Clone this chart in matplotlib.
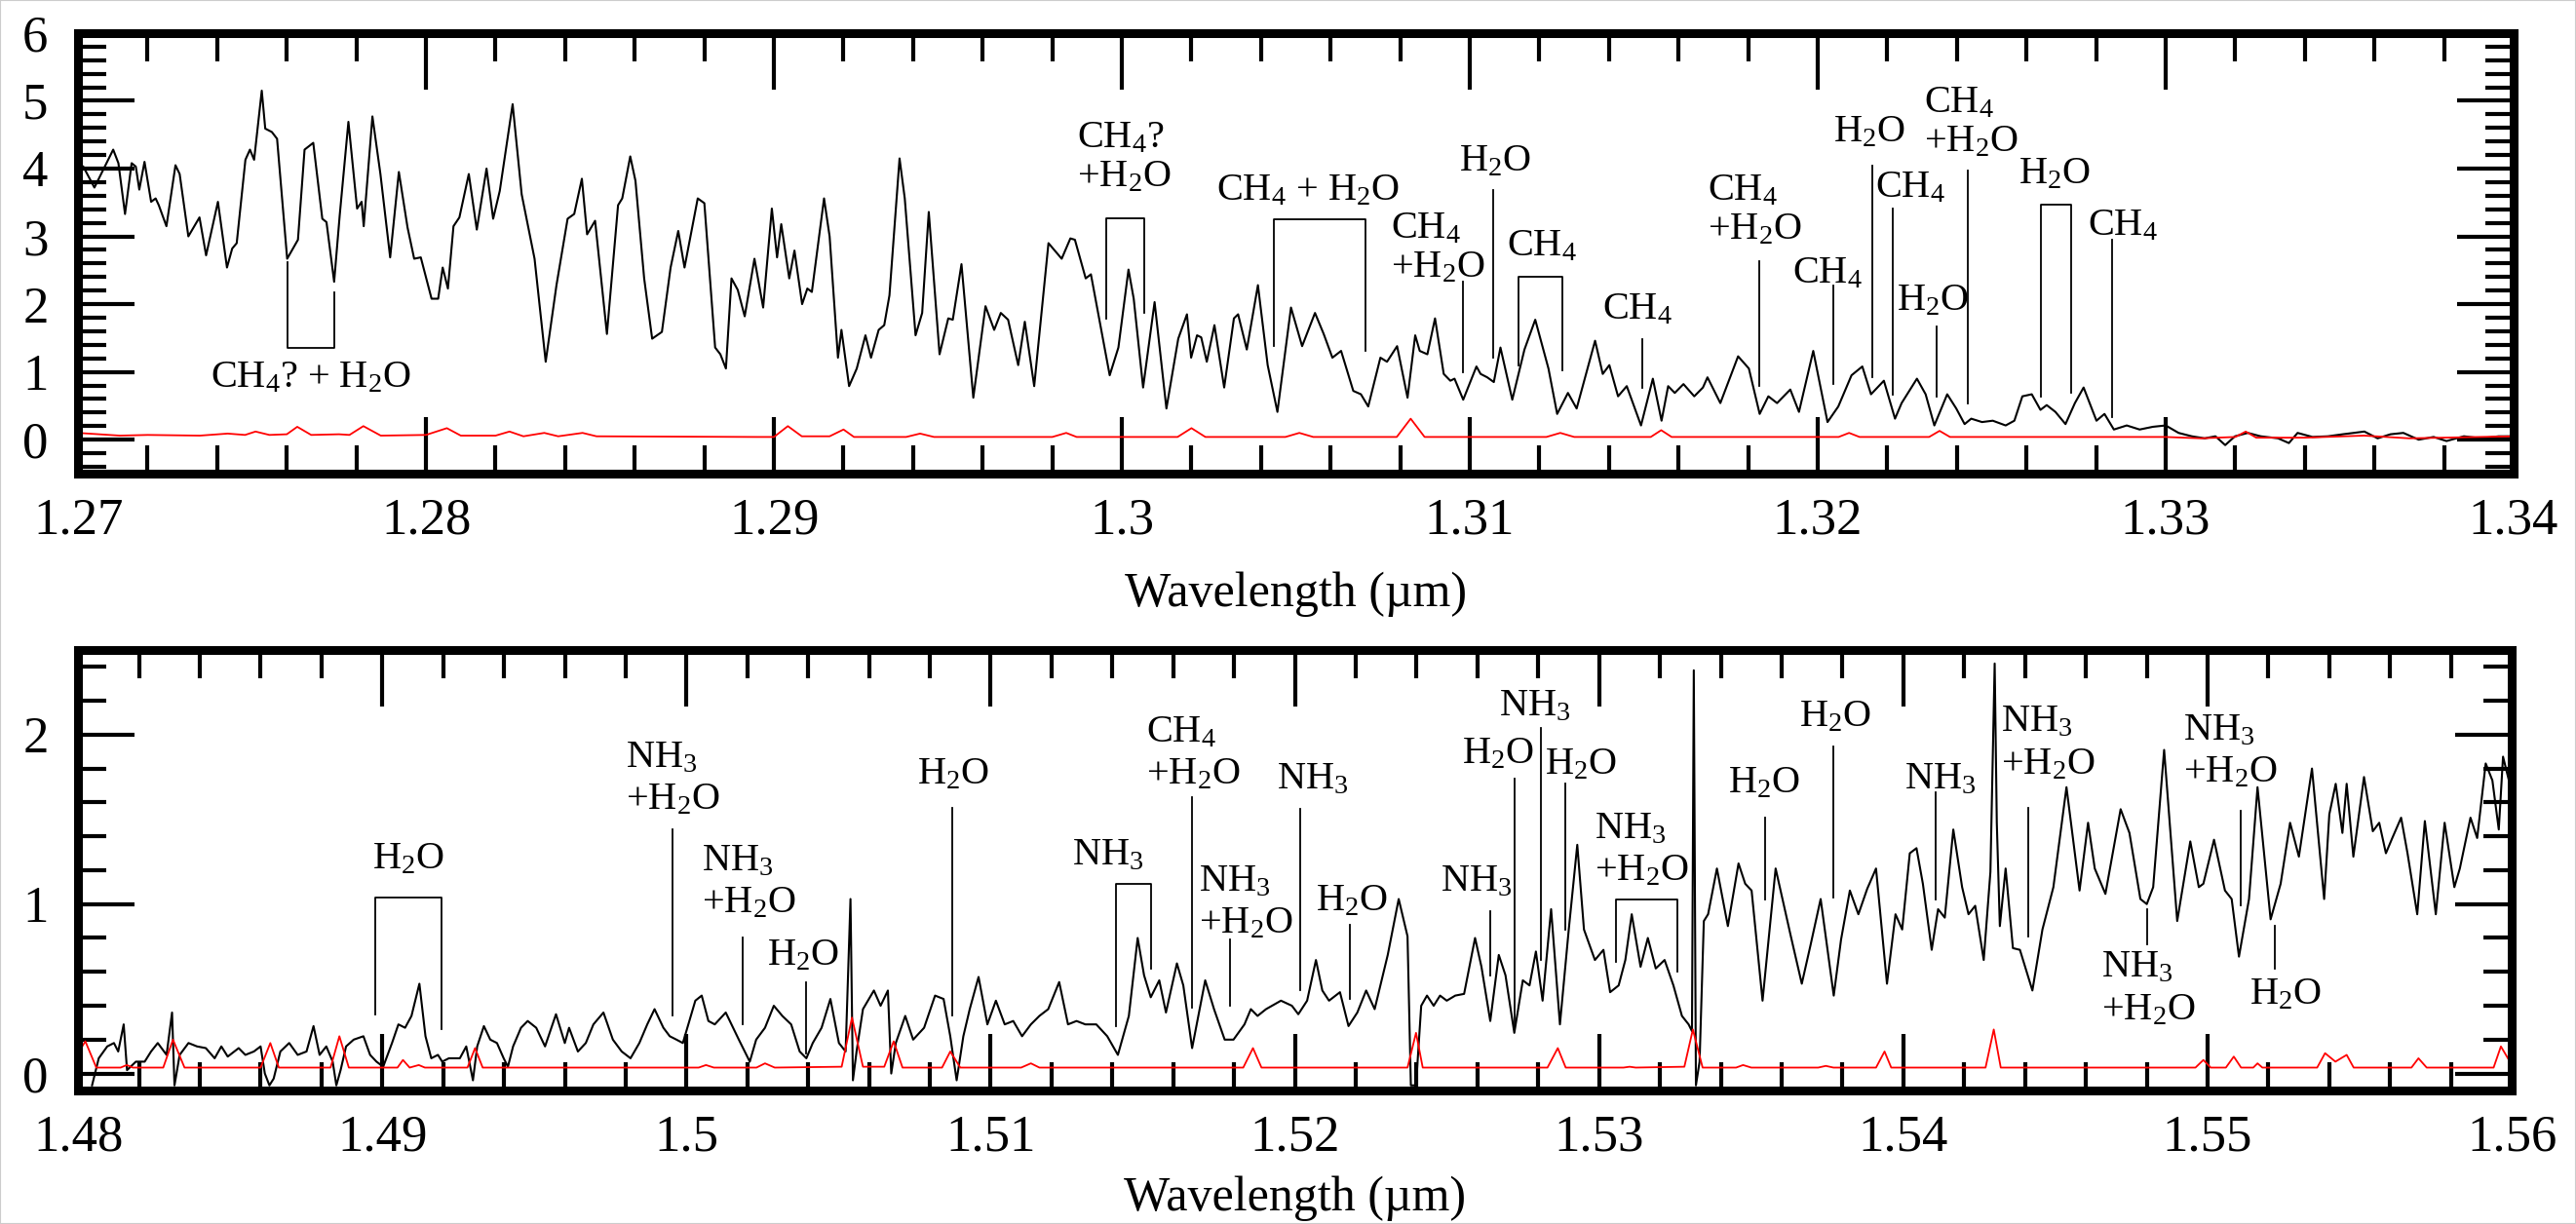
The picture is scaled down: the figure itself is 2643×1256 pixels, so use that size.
import matplotlib
matplotlib.use('Agg')
import matplotlib.pyplot as plt
from matplotlib.patches import Rectangle
from matplotlib.ticker import MultipleLocator, FormatStrFormatter

plt.rcParams['font.family'] = 'Liberation Serif'
plt.rcParams['mathtext.fontset'] = 'custom'
plt.rcParams['mathtext.rm'] = 'Liberation Serif'
plt.rcParams['mathtext.default'] = 'regular'

# ---- J band (1.27 - 1.34 um) ----
j_wave = [1.27015, 1.27047, 1.27101, 1.27116, 1.27135, 1.27154, 1.27166, 1.27176, 1.27191, 1.27210,
          1.27223, 1.27232, 1.27254, 1.27280, 1.27292, 1.27317, 1.27349, 1.27368, 1.27402, 1.27428,
          1.27443, 1.27456, 1.27481, 1.27494, 1.27506, 1.27528, 1.27538, 1.27557, 1.27572, 1.27601,
          1.27632, 1.27651, 1.27676, 1.27702, 1.27714, 1.27736, 1.27752, 1.27777, 1.27802, 1.27815,
          1.27821, 1.27846, 1.27869, 1.27897, 1.27922, 1.27947, 1.27966, 1.27985, 1.28016, 1.28035,
          1.28048, 1.28063, 1.28079, 1.28096, 1.28123, 1.28146, 1.28174, 1.28193, 1.28212, 1.28249,
          1.28275, 1.28312, 1.28344, 1.28375, 1.28407, 1.28426, 1.28448, 1.28463, 1.28486, 1.28520,
          1.28552, 1.28564, 1.28587, 1.28602, 1.28627, 1.28650, 1.28678, 1.28703, 1.28725, 1.28743,
          1.28781, 1.28800, 1.28831, 1.28846, 1.28862, 1.28878, 1.28896, 1.28916, 1.28944, 1.28969,
          1.28994, 1.29009, 1.29021, 1.29044, 1.29059, 1.29081, 1.29096, 1.29109, 1.29144, 1.29160,
          1.29184, 1.29194, 1.29216, 1.29238, 1.29263, 1.29279, 1.29301, 1.29317, 1.29332, 1.29361,
          1.29376, 1.29407, 1.29426, 1.29445, 1.29476, 1.29501, 1.29514, 1.29539, 1.29573, 1.29608,
          1.29633, 1.29652, 1.29673, 1.29702, 1.29721, 1.29748, 1.29789, 1.29827, 1.29852, 1.29865,
          1.29896, 1.29911, 1.29965, 1.29990, 1.30019, 1.30034, 1.30061, 1.30094, 1.30128, 1.30162,
          1.30187, 1.30199, 1.30216, 1.30228, 1.30244, 1.30266, 1.30294, 1.30322, 1.30334, 1.30359,
          1.30391, 1.30419, 1.30447, 1.30486, 1.30518, 1.30555, 1.30580, 1.30605, 1.30630, 1.30665,
          1.30687, 1.30708, 1.30743, 1.30762, 1.30791, 1.30821, 1.30843, 1.30856, 1.30878, 1.30900,
          1.30925, 1.30944, 1.30956, 1.30981, 1.31019, 1.31031, 1.31050, 1.31069, 1.31088, 1.31122,
          1.31157, 1.31188, 1.31226, 1.31251, 1.31267, 1.31282, 1.31307, 1.31360, 1.31382, 1.31401,
          1.31426, 1.31451, 1.31492, 1.31526, 1.31551, 1.31570, 1.31589, 1.31614, 1.31645, 1.31670,
          1.31683, 1.31720, 1.31771, 1.31802, 1.31833, 1.31858, 1.31883, 1.31921, 1.31946, 1.31987,
          1.32028, 1.32059, 1.32097, 1.32128, 1.32153, 1.32190, 1.32222, 1.32241, 1.32285, 1.32310,
          1.32335, 1.32372, 1.32398, 1.32422, 1.32441, 1.32472, 1.32503, 1.32540, 1.32565, 1.32588,
          1.32615, 1.32640, 1.32658, 1.32683, 1.32712, 1.32739, 1.32764, 1.32801, 1.32824, 1.32851,
          1.32888, 1.32925, 1.32963, 1.33000, 1.33037, 1.33075, 1.33112, 1.33143, 1.33171, 1.33199,
          1.33236, 1.33273, 1.33323, 1.33354, 1.33379, 1.33422, 1.33466, 1.33509, 1.33571, 1.33609,
          1.33646, 1.33683, 1.33727, 1.33770, 1.33807, 1.33857, 1.33907, 1.33957, 1.33988]
j_flux = [4.03, 3.72, 4.28, 4.08, 3.33, 4.08, 4.03, 3.69, 4.10, 3.51,
          3.56, 3.46, 3.15, 4.05, 3.92, 3.00, 3.28, 2.72, 3.51, 2.54,
          2.82, 2.90, 4.13, 4.28, 4.13, 5.15, 4.59, 4.54, 4.44, 2.67,
          2.95, 4.28, 4.38, 3.26, 3.21, 2.33, 3.31, 4.69, 3.41, 3.51,
          3.15, 4.77, 3.92, 2.69, 3.95, 3.13, 2.67, 2.69, 2.08, 2.08,
          2.54, 2.23, 3.15, 3.28, 3.92, 3.10, 4.00, 3.26, 3.67, 4.95,
          3.62, 2.67, 1.15, 2.28, 3.26, 3.33, 3.85, 3.03, 3.23, 1.56,
          3.46, 3.56, 4.18, 3.82, 2.38, 1.49, 1.59, 2.54, 3.08, 2.54,
          3.56, 3.49, 1.36, 1.26, 1.05, 2.38, 2.21, 1.82, 2.67, 1.95,
          3.41, 2.69, 3.18, 2.38, 2.79, 2.00, 2.23, 2.18, 3.56, 3.00,
          1.21, 1.62, 0.79, 1.05, 1.54, 1.21, 1.62, 1.69, 2.13, 4.15,
          3.56, 1.54, 1.87, 3.36, 1.26, 1.79, 1.77, 2.59, 0.62, 1.97,
          1.62, 1.87, 1.77, 1.10, 1.74, 0.79, 2.90, 2.67, 2.97, 2.95,
          2.38, 2.44, 0.95, 1.36, 2.51, 2.08, 0.77, 2.03, 0.46, 1.49,
          1.85, 1.21, 1.54, 1.51, 1.15, 1.69, 0.77, 1.79, 1.85, 1.33,
          2.28, 1.10, 0.41, 1.95, 1.38, 1.87, 1.56, 1.21, 1.31, 0.72,
          0.67, 0.49, 1.21, 1.15, 1.38, 0.62, 1.54, 1.31, 1.26, 1.79,
          0.97, 0.87, 0.90, 0.59, 1.08, 0.97, 0.92, 0.85, 1.36, 0.59,
          1.33, 1.77, 1.05, 0.38, 0.54, 0.69, 0.46, 1.46, 0.97, 1.10,
          0.64, 0.79, 0.21, 0.90, 0.28, 0.79, 0.69, 0.82, 0.64, 0.77,
          0.92, 0.54, 1.23, 1.05, 0.38, 0.64, 0.54, 0.74, 0.41, 1.31,
          0.26, 0.49, 0.95, 1.08, 0.67, 0.87, 0.31, 0.54, 0.90, 0.67,
          0.21, 0.67, 0.46, 0.23, 0.31, 0.26, 0.28, 0.21, 0.28, 0.64,
          0.67, 0.44, 0.51, 0.41, 0.23, 0.54, 0.77, 0.28, 0.38, 0.15,
          0.21, 0.15, 0.19, 0.21, 0.10, 0.05, 0.02, 0.05, -0.08, 0.05,
          0.10, 0.05, 0.02, -0.05, 0.10, 0.04, 0.05, 0.08, 0.12, 0.02,
          0.08, 0.10, 0.00, 0.04, -0.02, 0.05, 0.02, 0.05, 0.05]

j_err_wave = [1.2700, 1.2712, 1.2720, 1.2735, 1.2743, 1.2748, 1.2751, 1.2755, 1.2760, 1.2763,
              1.2767, 1.2775, 1.2778, 1.2782, 1.2787, 1.2800, 1.2806, 1.2810, 1.2820, 1.2824,
              1.2828, 1.2834, 1.2838, 1.2845, 1.2849, 1.2895, 1.2900, 1.2904, 1.2908, 1.2916,
              1.2920, 1.2923, 1.2938, 1.2942, 1.2946, 1.2980, 1.2984, 1.2987, 1.3016, 1.3020,
              1.3024, 1.3047, 1.3051, 1.3055, 1.3079, 1.3083, 1.3087, 1.3122, 1.3126, 1.3130,
              1.3152, 1.3155, 1.3158, 1.3206, 1.3209, 1.3212, 1.3232, 1.3235, 1.3238, 1.3300,
              1.3310, 1.3320, 1.3323, 1.3326, 1.3340, 1.3357, 1.3370, 1.3390, 1.3400]
j_err = [0.10, 0.06, 0.07, 0.06, 0.09, 0.07, 0.12, 0.07, 0.08, 0.19,
         0.07, 0.08, 0.07, 0.20, 0.06, 0.07, 0.17, 0.06, 0.06, 0.12,
         0.05, 0.10, 0.05, 0.10, 0.05, 0.04, 0.04, 0.20, 0.05, 0.05,
         0.15, 0.04, 0.04, 0.09, 0.04, 0.04, 0.10, 0.04, 0.04, 0.17,
         0.04, 0.04, 0.10, 0.04, 0.04, 0.31, 0.04, 0.04, 0.10, 0.04,
         0.04, 0.14, 0.04, 0.04, 0.10, 0.04, 0.04, 0.13, 0.04, 0.04,
         0.02, 0.04, 0.12, 0.03, 0.03, 0.06, 0.02, 0.04, 0.05]

# ---- H band (1.48 - 1.56 um) ----
h_wave = [1.48046, 1.48068, 1.48096, 1.48118, 1.48132, 1.48150, 1.48161, 1.48190, 1.48219, 1.48240,
          1.48262, 1.48291, 1.48309, 1.48317, 1.48334, 1.48363, 1.48391, 1.48420, 1.48449, 1.48471,
          1.48492, 1.48528, 1.48550, 1.48578, 1.48600, 1.48614, 1.48629, 1.48643, 1.48665, 1.48694,
          1.48722, 1.48751, 1.48774, 1.48794, 1.48816, 1.48837, 1.48849, 1.48863, 1.48881, 1.48906,
          1.48938, 1.48960, 1.48981, 1.49003, 1.49032, 1.49053, 1.49075, 1.49096, 1.49122, 1.49142,
          1.49161, 1.49183, 1.49197, 1.49219, 1.49255, 1.49276, 1.49298, 1.49312, 1.49334, 1.49355,
          1.49377, 1.49399, 1.49413, 1.49430, 1.49456, 1.49478, 1.49506, 1.49535, 1.49571, 1.49600,
          1.49614, 1.49643, 1.49669, 1.49694, 1.49727, 1.49758, 1.49787, 1.49816, 1.49845, 1.49871,
          1.49895, 1.49924, 1.49945, 1.49967, 1.49988, 1.50029, 1.50050, 1.50072, 1.50093, 1.50129,
          1.50172, 1.50208, 1.50229, 1.50258, 1.50287, 1.50315, 1.50344, 1.50372, 1.50394, 1.50415,
          1.50444, 1.50473, 1.50501, 1.50523, 1.50539, 1.50547, 1.50559, 1.50580, 1.50616, 1.50638,
          1.50662, 1.50673, 1.50688, 1.50719, 1.50745, 1.50781, 1.50817, 1.50845, 1.50867, 1.50888,
          1.50910, 1.50931, 1.50960, 1.50989, 1.51017, 1.51046, 1.51074, 1.51103, 1.51132, 1.51160,
          1.51189, 1.51225, 1.51254, 1.51282, 1.51311, 1.51347, 1.51383, 1.51418, 1.51454, 1.51483,
          1.51504, 1.51526, 1.51554, 1.51576, 1.51612, 1.51633, 1.51662, 1.51705, 1.51734, 1.51769,
          1.51798, 1.51834, 1.51855, 1.51877, 1.51905, 1.51954, 1.51990, 1.52011, 1.52040, 1.52069,
          1.52090, 1.52112, 1.52148, 1.52176, 1.52205, 1.52234, 1.52262, 1.52305, 1.52341, 1.52370,
          1.52381, 1.52398, 1.52415, 1.52434, 1.52456, 1.52477, 1.52499, 1.52527, 1.52556, 1.52592,
          1.52613, 1.52642, 1.52670, 1.52692, 1.52721, 1.52749, 1.52771, 1.52792, 1.52814, 1.52842,
          1.52871, 1.52900, 1.52928, 1.52950, 1.52986, 1.53014, 1.53036, 1.53064, 1.53086, 1.53107,
          1.53136, 1.53160, 1.53186, 1.53215, 1.53244, 1.53272, 1.53294, 1.53305, 1.53311, 1.53318,
          1.53330, 1.53344, 1.53358, 1.53387, 1.53423, 1.53458, 1.53480, 1.53501, 1.53537, 1.53580,
          1.53630, 1.53666, 1.53695, 1.53728, 1.53771, 1.53795, 1.53824, 1.53852, 1.53881, 1.53910,
          1.53946, 1.53974, 1.53996, 1.54021, 1.54043, 1.54064, 1.54093, 1.54114, 1.54136, 1.54164,
          1.54193, 1.54214, 1.54236, 1.54264, 1.54286, 1.54296, 1.54300, 1.54307, 1.54317, 1.54336,
          1.54360, 1.54383, 1.54424, 1.54457, 1.54493, 1.54536, 1.54579, 1.54607, 1.54629, 1.54664,
          1.54714, 1.54743, 1.54779, 1.54800, 1.54821, 1.54857, 1.54900, 1.54943, 1.54971, 1.54986,
          1.55021, 1.55057, 1.55079, 1.55103, 1.55136, 1.55164, 1.55207, 1.55240, 1.55271, 1.55300,
          1.55343, 1.55383, 1.55400, 1.55421, 1.55443, 1.55457, 1.55479, 1.55514, 1.55543, 1.55564,
          1.55586, 1.55607, 1.55636, 1.55657, 1.55689, 1.55714, 1.55750, 1.55779, 1.55811, 1.55829,
          1.55864, 1.55886, 1.55914, 1.55936, 1.55957, 1.55971, 1.55993]
h_flux = [-0.07, 0.09, 0.16, 0.18, 0.13, 0.29, 0.02, 0.07, 0.07, 0.13,
          0.18, 0.11, 0.36, -0.07, 0.11, 0.18, 0.16, 0.15, 0.09, 0.16,
          0.10, 0.15, 0.11, 0.13, 0.16, 0.00, -0.07, -0.03, 0.13, 0.18,
          0.11, 0.13, 0.28, 0.11, 0.16, 0.07, -0.07, 0.02, 0.16, 0.20,
          0.22, 0.11, 0.07, 0.04, 0.18, 0.29, 0.27, 0.34, 0.53, 0.22,
          0.09, 0.11, 0.07, 0.09, 0.09, 0.16, -0.04, 0.16, 0.28, 0.20,
          0.18, 0.09, 0.04, 0.16, 0.27, 0.31, 0.27, 0.16, 0.35, 0.18,
          0.27, 0.13, 0.18, 0.29, 0.36, 0.20, 0.13, 0.09, 0.18, 0.29,
          0.38, 0.27, 0.22, 0.20, 0.18, 0.43, 0.46, 0.31, 0.29, 0.36,
          0.20, 0.07, 0.20, 0.27, 0.40, 0.34, 0.29, 0.13, 0.09, 0.18,
          0.27, 0.44, 0.18, 0.13, 1.03, -0.04, 0.13, 0.38, 0.49, 0.40,
          0.49, 0.00, 0.18, 0.34, 0.20, 0.27, 0.46, 0.44, 0.22, -0.04,
          0.22, 0.38, 0.57, 0.29, 0.43, 0.29, 0.31, 0.22, 0.29, 0.34,
          0.38, 0.54, 0.29, 0.31, 0.29, 0.29, 0.22, 0.11, 0.34, 0.80,
          0.58, 0.45, 0.55, 0.36, 0.65, 0.52, 0.15, 0.55, 0.38, 0.20,
          0.20, 0.29, 0.38, 0.34, 0.38, 0.43, 0.40, 0.35, 0.43, 0.67,
          0.49, 0.43, 0.48, 0.28, 0.36, 0.49, 0.38, 0.70, 1.03, 0.81,
          -0.07, -0.07, 0.40, 0.46, 0.40, 0.46, 0.43, 0.46, 0.47, 0.80,
          0.63, 0.31, 0.70, 0.58, 0.24, 0.55, 0.52, 0.72, 0.43, 0.97,
          0.29, 0.85, 1.35, 0.85, 0.67, 0.73, 0.48, 0.52, 0.67, 0.94,
          0.63, 0.80, 0.62, 0.67, 0.52, 0.34, 0.29, 0.25, 2.38, -0.07,
          0.07, 0.90, 0.94, 1.21, 0.87, 1.24, 1.12, 1.08, 0.43, 1.21,
          0.81, 0.53, 0.76, 1.03, 0.46, 0.79, 1.08, 0.94, 1.09, 1.21,
          0.53, 0.94, 0.85, 1.30, 1.33, 1.12, 0.73, 0.97, 0.92, 1.44,
          1.10, 0.94, 0.99, 0.67, 1.19, 2.09, 2.42, 1.48, 0.87, 1.21,
          0.74, 0.73, 0.49, 0.85, 1.10, 1.69, 1.08, 1.48, 1.21, 1.06,
          1.56, 1.42, 1.03, 1.00, 1.10, 1.91, 0.90, 1.37, 1.10, 1.12,
          1.38, 1.08, 1.03, 0.69, 1.03, 1.69, 0.91, 1.12, 1.48, 1.28,
          1.80, 1.03, 1.53, 1.71, 1.42, 1.71, 1.28, 1.75, 1.43, 1.48,
          1.30, 1.39, 1.51, 1.30, 0.94, 1.49, 0.94, 1.48, 1.10, 1.21,
          1.51, 1.39, 1.83, 1.73, 1.44, 1.87, 1.71]

h_err_wave = [1.4800, 1.48024, 1.4806, 1.4814, 1.4816, 1.4818, 1.4828, 1.48312, 1.4835, 1.4860,
              1.48632, 1.4866, 1.4883, 1.48859, 1.4889, 1.4905, 1.49068, 1.4909, 1.4912, 1.4914,
              1.4928, 1.49305, 1.4933, 1.5004, 1.50064, 1.5009, 1.5023, 1.50258, 1.5029, 1.5051,
              1.50544, 1.5058, 1.5065, 1.50681, 1.5071, 1.5084, 1.50867, 1.5090, 1.5110, 1.51132,
              1.5116, 1.5183, 1.51862, 1.5189, 1.5237, 1.52398, 1.5242, 1.5283, 1.52864, 1.5289,
              1.5308, 1.5310, 1.5312, 1.5328, 1.53308, 1.5334, 1.5345, 1.53473, 1.5350, 1.5372,
              1.53745, 1.5377, 1.5391, 1.53938, 1.5396, 1.5427, 1.54297, 1.5432, 1.5496, 1.54986,
              1.5501, 1.5506, 1.55086, 1.5511, 1.5515, 1.55164, 1.5518, 1.5536, 1.55386, 1.5542,
              1.55457, 1.5548, 1.5567, 1.55693, 1.5572, 1.5594, 1.55964, 1.5600]
h_err = [0.12, 0.19, 0.035, 0.035, 0.05, 0.035, 0.035, 0.20, 0.035, 0.035,
         0.18, 0.035, 0.035, 0.22, 0.035, 0.035, 0.08, 0.035, 0.05, 0.035,
         0.035, 0.15, 0.035, 0.035, 0.05, 0.035, 0.035, 0.06, 0.035, 0.04,
         0.33, 0.04, 0.04, 0.19, 0.035, 0.035, 0.13, 0.035, 0.035, 0.06,
         0.035, 0.035, 0.15, 0.035, 0.035, 0.24, 0.035, 0.035, 0.15, 0.035,
         0.035, 0.04, 0.035, 0.04, 0.26, 0.035, 0.035, 0.05, 0.035, 0.035,
         0.045, 0.035, 0.035, 0.13, 0.035, 0.035, 0.26, 0.035, 0.035, 0.08,
         0.035, 0.035, 0.10, 0.035, 0.035, 0.06, 0.035, 0.035, 0.12, 0.07,
         0.11, 0.035, 0.035, 0.09, 0.035, 0.035, 0.16, 0.05]

# line identifications: (left x, baseline of lowest text line, lines of text)
j_labels = [(1.27380, 0.78, ['CH$_4$? + H$_2$O']),
            (1.29871, 3.73, ['CH$_4$?', '+H$_2$O']),
            (1.30272, 3.53, ['CH$_4$ + H$_2$O']),
            (1.30774, 2.40, ['CH$_4$', '+H$_2$O']),
            (1.30969, 3.96, ['H$_2$O']),
            (1.31107, 2.71, ['CH$_4$']),
            (1.31382, 1.78, ['CH$_4$']),
            (1.31683, 2.96, ['CH$_4$', '+H$_2$O']),
            (1.31927, 2.32, ['CH$_4$']),
            (1.32046, 4.40, ['H$_2$O']),
            (1.32165, 3.58, ['CH$_4$']),
            (1.32228, 1.91, ['H$_2$O']),
            (1.32304, 4.25, ['CH$_4$', '+H$_2$O']),
            (1.32578, 3.78, ['H$_2$O']),
            (1.32776, 3.02, ['CH$_4$'])]
# single markers: (x, top, bottom)
j_marks = [(1.30981, 2.33, 1.00), (1.31066, 3.69, 1.21), (1.31495, 1.49, 0.77),
           (1.31831, 2.64, 0.79), (1.32046, 2.28, 0.82), (1.32157, 4.05, 0.92),
           (1.32216, 3.41, 0.67), (1.32342, 1.67, 0.64), (1.32431, 3.97, 0.54),
           (1.32846, 2.95, 0.33)]
# brackets: (x1, x2, bar level, end of leg 1, end of leg 2)
j_brackets = [(1.27601, 1.27736, 1.36, 2.62, 2.18),
              (1.29956, 1.30065, 3.27, 1.79, 1.87),
              (1.30437, 1.30699, 3.25, 1.38, 1.31),
              (1.31139, 1.31267, 2.41, 1.10, 1.03),
              (1.32640, 1.32727, 3.47, 0.64, 0.69)]

h_labels = [(1.48967, 1.21, ['H$_2$O']),
            (1.49801, 1.56, ['NH$_3$', '+H$_2$O']),
            (1.50050, 0.95, ['NH$_3$', '+H$_2$O']),
            (1.50265, 0.64, ['H$_2$O']),
            (1.50759, 1.71, ['H$_2$O']),
            (1.51268, 1.23, ['NH$_3$']),
            (1.51511, 1.71, ['CH$_4$', '+H$_2$O']),
            (1.51683, 0.83, ['NH$_3$', '+H$_2$O']),
            (1.51941, 1.68, ['NH$_3$']),
            (1.52069, 0.96, ['H$_2$O']),
            (1.52477, 1.08, ['NH$_3$']),
            (1.52549, 1.83, ['H$_2$O']),
            (1.52670, 2.11, ['NH$_3$']),
            (1.52821, 1.77, ['H$_2$O']),
            (1.52986, 1.14, ['NH$_3$', '+H$_2$O']),
            (1.53423, 1.66, ['H$_2$O']),
            (1.53659, 2.05, ['H$_2$O']),
            (1.54003, 1.68, ['NH$_3$']),
            (1.54321, 1.77, ['NH$_3$', '+H$_2$O']),
            (1.54650, 0.32, ['NH$_3$', '+H$_2$O']),
            (1.54921, 1.72, ['NH$_3$', '+H$_2$O']),
            (1.55136, 0.41, ['H$_2$O'])]
h_marks = [(1.49953, 1.44, 0.34), (1.50186, 0.80, 0.29), (1.50394, 0.54, 0.12),
           (1.50874, 1.57, 0.34), (1.51662, 1.63, 0.39), (1.51788, 0.79, 0.40),
           (1.52017, 1.56, 0.49), (1.52181, 0.88, 0.44), (1.52642, 0.96, 0.58),
           (1.52722, 1.74, 0.27), (1.52809, 2.04, 0.67), (1.52888, 1.71, 0.85),
           (1.53544, 1.51, 1.03), (1.53771, 1.93, 1.04), (1.54105, 1.66, 1.03),
           (1.54411, 1.57, 0.81), (1.54800, 0.97, 0.76), (1.55110, 1.55, 0.99),
           (1.55221, 0.87, 0.62)]
h_brackets = [(1.48978, 1.49194, 1.04, 0.35, 0.26),
              (1.51411, 1.51526, 1.12, 0.28, 0.62),
              (1.53054, 1.53258, 1.03, 0.66, 0.60)]


def style_axes(ax, xlim, ylim, label_y):
    ax.set_xlim(*xlim)
    ax.set_ylim(*ylim)
    ax.xaxis.set_major_locator(MultipleLocator(0.01))
    ax.xaxis.set_minor_locator(MultipleLocator(0.002))
    ax.yaxis.set_major_locator(MultipleLocator(1))
    ax.yaxis.set_minor_locator(MultipleLocator(0.2))
    ax.xaxis.set_major_formatter(FormatStrFormatter('%g'))
    ax.tick_params(which='both', direction='in', top=True, right=True, width=3)
    ax.tick_params(which='major', length=42, labelsize=38)
    ax.tick_params(which='minor', length=21)
    ax.tick_params(axis='x', pad=18)
    ax.tick_params(axis='y', pad=22)
    for sp in ax.spines.values():
        sp.set_linewidth(6.5)
        sp.set_capstyle('projecting')
    ax.set_xlabel('Wavelength (\u00b5m)', fontsize=36)
    ax.xaxis.label.set_va('baseline')
    ax.xaxis.set_label_coords(0.5, label_y)


def annotate(ax, labels, marks, brackets, step):
    for x, base, lines in labels:
        for i, txt in enumerate(reversed(lines)):
            ax.text(x, base + i * step, txt, ha='left', va='baseline', fontsize=29)
    for x, top, bot in marks:
        ax.plot([x, x], [bot, top], color='black', lw=1.3)
    for x1, x2, bar, e1, e2 in brackets:
        ax.plot([x1, x1, x2, x2], [e1, bar, bar, e2], color='black', lw=1.3)


fig = plt.figure(figsize=(26.43, 12.56), dpi=100)

ax1 = fig.add_axes([0.0303, 0.6131, 0.9455, 0.3599])
ax1.plot(j_wave, j_flux, color='black', lw=1.5)
ax1.plot(j_err_wave, j_err, color='red', lw=1.3)
style_axes(ax1, (1.27, 1.34), (-0.5, 6), -0.300)
annotate(ax1, j_labels, j_marks, j_brackets, 0.58)

ax2 = fig.add_axes([0.0303, 0.1091, 0.9448, 0.3599])
ax2.plot(h_wave, h_flux, color='black', lw=1.5)
ax2.plot(h_err_wave, h_err, color='red', lw=1.3)
style_axes(ax2, (1.48, 1.56), (-0.1, 2.5), -0.272)
annotate(ax2, h_labels, h_marks, h_brackets, 0.25)

fig.patches.append(Rectangle((0, 0), 1, 1, transform=fig.transFigure, fill=False,
                             edgecolor='#cccccc', lw=1.5))

fig.savefig('out.png', dpi=100)
